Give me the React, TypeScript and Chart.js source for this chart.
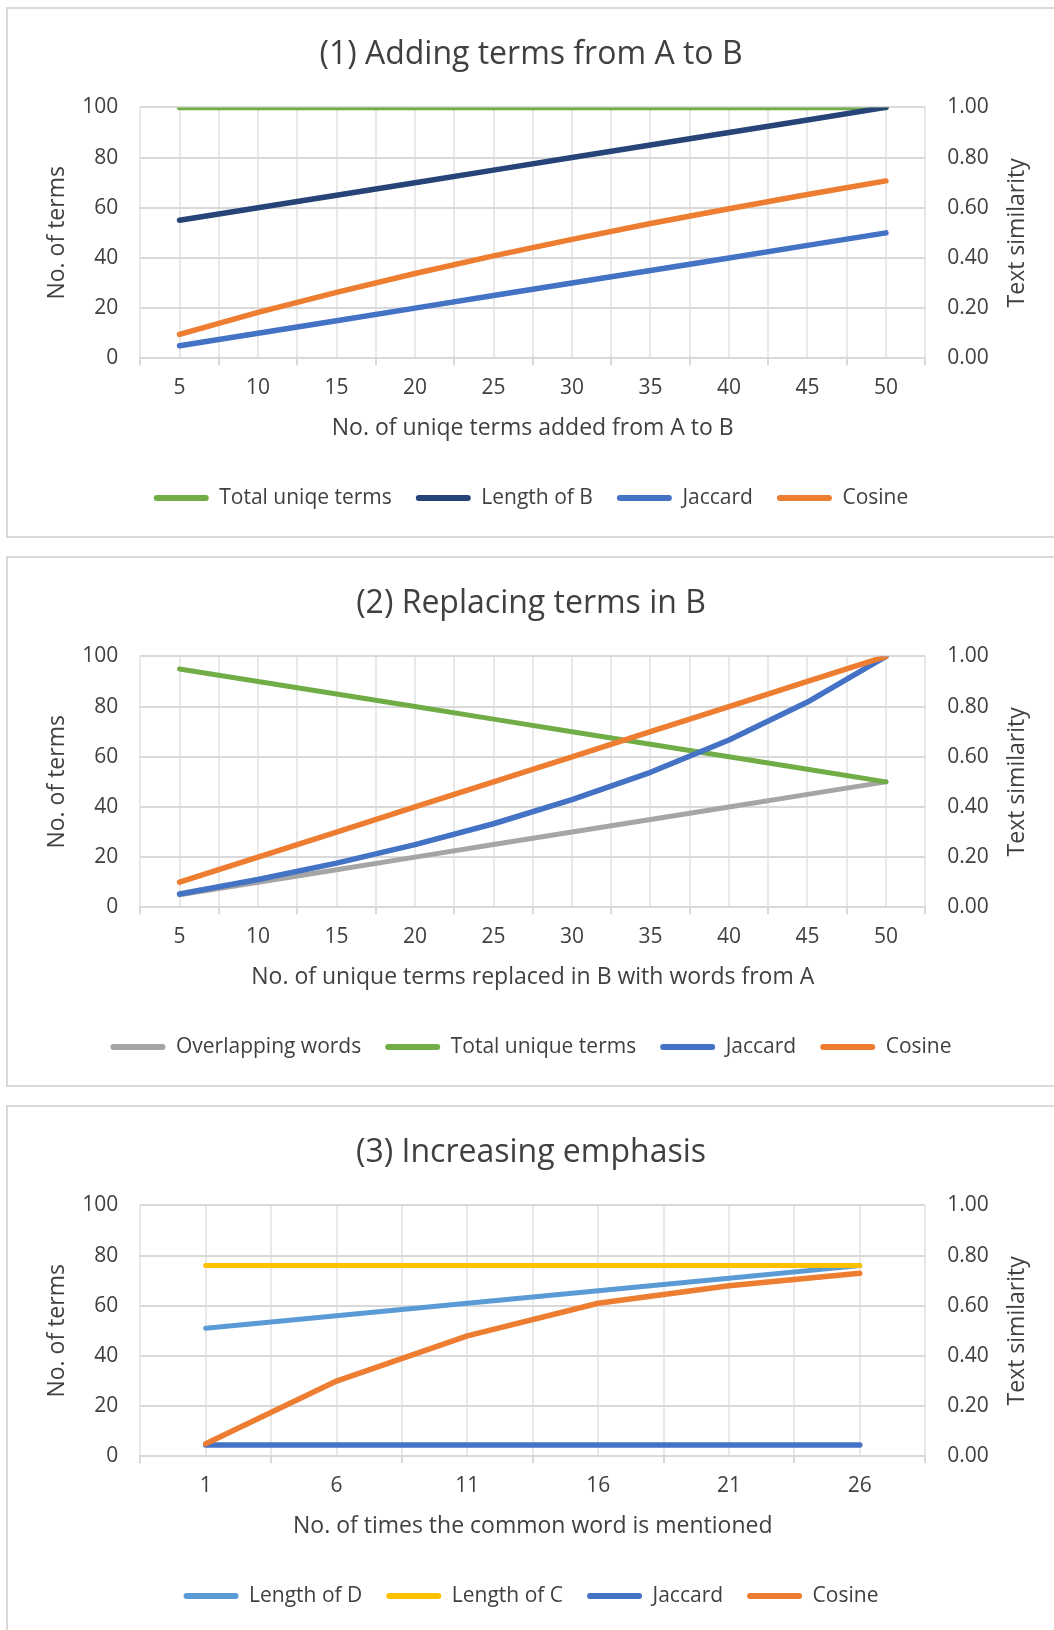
import React, { useEffect, useRef } from "react";
import { Chart, registerables } from "chart.js";

Chart.register(...registerables);

const FONT = "'Open Sans', 'Noto Sans', sans-serif";
const TEXT = "#404040";

// (1) Adding terms from A to B
const ADD_X = [5, 10, 15, 20, 25, 30, 35, 40, 45, 50];
const ADD_TOTAL_UNIQUE = [100, 100, 100, 100, 100, 100, 100, 100, 100, 100];
const ADD_LENGTH_B = [55, 60, 65, 70, 75, 80, 85, 90, 95, 100];
const ADD_JACCARD = [0.05, 0.1, 0.15, 0.2, 0.25, 0.3, 0.35, 0.4, 0.45, 0.5];
const ADD_COSINE = [0.095, 0.183, 0.263, 0.338, 0.408, 0.474, 0.537, 0.596, 0.653, 0.707];

// (2) Replacing terms in B
const REPL_X = [5, 10, 15, 20, 25, 30, 35, 40, 45, 50];
const REPL_OVERLAP = [5, 10, 15, 20, 25, 30, 35, 40, 45, 50];
const REPL_TOTAL_UNIQUE = [95, 90, 85, 80, 75, 70, 65, 60, 55, 50];
const REPL_JACCARD = [0.053, 0.111, 0.176, 0.25, 0.333, 0.429, 0.538, 0.667, 0.818, 1.0];
const REPL_COSINE = [0.1, 0.2, 0.3, 0.4, 0.5, 0.6, 0.7, 0.8, 0.9, 1.0];

// (3) Increasing emphasis
const EMPH_X = [1, 6, 11, 16, 21, 26];
const EMPH_LENGTH_D = [51, 56, 61, 66, 71, 76];
const EMPH_LENGTH_C = [76, 76, 76, 76, 76, 76];
const EMPH_JACCARD = [0.045, 0.045, 0.045, 0.045, 0.045, 0.045];
const EMPH_COSINE = [0.05, 0.3, 0.48, 0.61, 0.68, 0.73];

const GREEN = "#70AD47";
const NAVY = "#264478";
const BLUE = "#4472C4";
const ORANGE = "#ED7D31";
const GRAY = "#A5A5A5";
const GOLD = "#FFC000";
const LIGHT_BLUE = "#5B9BD5";

type Series = {
  label: string;
  color: string;
  width: number;
  axis: "y" | "y1";
  values: number[];
};

type PanelSpec = {
  title: string;
  xTitle: string;
  xs: number[];
  series: Series[];
};

const PANELS: PanelSpec[] = [
  {
    title: "(1) Adding terms from A to B",
    xTitle: "No. of uniqe terms added from A to B",
    xs: ADD_X,
    series: [
      { label: "Total uniqe terms", color: GREEN, width: 5.5, axis: "y", values: ADD_TOTAL_UNIQUE },
      { label: "Length of B", color: NAVY, width: 5.5, axis: "y", values: ADD_LENGTH_B },
      { label: "Jaccard", color: BLUE, width: 5.5, axis: "y1", values: ADD_JACCARD },
      { label: "Cosine", color: ORANGE, width: 5.5, axis: "y1", values: ADD_COSINE },
    ],
  },
  {
    title: "(2) Replacing terms in B",
    xTitle: "No. of unique terms replaced in B with words from A",
    xs: REPL_X,
    series: [
      { label: "Overlapping words", color: GRAY, width: 5, axis: "y", values: REPL_OVERLAP },
      { label: "Total unique terms", color: GREEN, width: 5, axis: "y", values: REPL_TOTAL_UNIQUE },
      { label: "Jaccard", color: BLUE, width: 5.5, axis: "y1", values: REPL_JACCARD },
      { label: "Cosine", color: ORANGE, width: 5.5, axis: "y1", values: REPL_COSINE },
    ],
  },
  {
    title: "(3) Increasing emphasis",
    xTitle: "No. of times the common word is mentioned",
    xs: EMPH_X,
    series: [
      { label: "Length of D", color: LIGHT_BLUE, width: 5, axis: "y", values: EMPH_LENGTH_D },
      { label: "Length of C", color: GOLD, width: 5, axis: "y", values: EMPH_LENGTH_C },
      { label: "Jaccard", color: BLUE, width: 5.5, axis: "y1", values: EMPH_JACCARD },
      { label: "Cosine", color: ORANGE, width: 5.5, axis: "y1", values: EMPH_COSINE },
    ],
  },
];

const CANVAS_W = 1046;
const CANVAS_H = 527;

// Secondary axis title, drawn reading bottom-to-top like the primary one
const sideTitle = {
  id: "sideTitle",
  afterDraw(chart: any) {
    const { ctx, chartArea, scales } = chart;
    const x = scales.y1.right - 37;
    const y = (chartArea.top + chartArea.bottom) / 2;
    ctx.save();
    ctx.translate(x, y);
    ctx.rotate(-Math.PI / 2);
    ctx.font = `23px ${FONT}`;
    ctx.fillStyle = TEXT;
    ctx.textAlign = "center";
    ctx.textBaseline = "middle";
    ctx.fillText("Text similarity", 0, 0);
    ctx.restore();
  },
};

function buildChart(canvas: HTMLCanvasElement, spec: PanelSpec) {
  const half = (spec.xs[1] - spec.xs[0]) / 2;
  const isCategory = (v: number) => spec.xs.some((c) => Math.abs(c - v) < 1e-6);
  const n = spec.series.length;

  return new Chart(canvas, {
    type: "line",
    data: {
      datasets: spec.series.map((s, i) => ({
        label: s.label,
        data: spec.xs.map((x, k) => ({ x, y: s.values[k] })),
        yAxisID: s.axis,
        borderColor: s.color,
        backgroundColor: s.color,
        borderWidth: s.width,
        borderCapStyle: "round",
        borderJoinStyle: "round",
        pointRadius: 0,
        pointHoverRadius: 0,
        tension: 0,
        fill: false,
        order: n - i,
        clip: { left: false, right: false, top: 0, bottom: false },
      })),
    },
    options: {
      responsive: false,
      animation: false,
      events: [],
      layout: { padding: { left: 0, right: 0, top: 0, bottom: 17.5 } },
      plugins: {
        title: {
          display: true,
          text: spec.title,
          color: TEXT,
          font: { family: FONT, size: 32, weight: "normal" },
          padding: { top: 27, bottom: 33 },
        },
        legend: {
          position: "bottom",
          labels: {
            boxWidth: 55,
            boxHeight: 6,
            padding: 24,
            color: TEXT,
            font: { family: FONT, size: 21 },
            useBorderRadius: true,
            borderRadius: 3,
            sort: (a: any, b: any) => a.datasetIndex - b.datasetIndex,
            generateLabels: (chart: any) =>
              Chart.defaults.plugins.legend.labels
                .generateLabels(chart)
                .map((item: any) => ({ ...item, lineWidth: 0 })),
          },
        },
        tooltip: { enabled: false },
      },
      scales: {
        x: {
          type: "linear",
          min: spec.xs[0] - half,
          max: spec.xs[spec.xs.length - 1] + half,
          afterFit: (scale: any) => {
            scale.height = 105.2;
          },
          ticks: {
            stepSize: half,
            maxTicksLimit: 100,
            autoSkip: false,
            maxRotation: 0,
            padding: 10,
            color: TEXT,
            font: { family: FONT, size: 21 },
            callback: (v: any) => (isCategory(Number(v)) ? String(Math.round(Number(v))) : ""),
          },
          grid: {
            color: "#e8e8e8",
            lineWidth: 2,
            tickLength: 7,
            tickWidth: 2,
            tickColor: (ctx: any) =>
              ctx.tick && isCategory(ctx.tick.value) ? "rgba(0,0,0,0)" : "#d9d9d9",
          },
          border: { color: "#d9d9d9", width: 2 },
          title: {
            display: true,
            text: spec.xTitle,
            color: TEXT,
            font: { family: FONT, size: 23 },
            padding: { top: 0, bottom: 21.7 },
          },
        },
        y: {
          position: "left",
          min: 0,
          max: 100,
          afterFit: (scale: any) => {
            scale.width = 132.3;
          },
          ticks: {
            stepSize: 20,
            padding: 22,
            color: TEXT,
            font: { family: FONT, size: 21 },
          },
          grid: { color: "#d9d9d9", lineWidth: 2, drawTicks: false },
          border: { display: false },
          title: {
            display: true,
            text: "No. of terms",
            color: TEXT,
            font: { family: FONT, size: 23 },
            padding: { top: 36, bottom: 0 },
          },
        },
        y1: {
          position: "right",
          min: 0,
          max: 1,
          afterFit: (scale: any) => {
            scale.width = 128.8;
          },
          ticks: {
            stepSize: 0.2,
            padding: 22,
            color: TEXT,
            font: { family: FONT, size: 21 },
            callback: (v: any) => Number(v).toFixed(2),
          },
          grid: { drawOnChartArea: false, drawTicks: false },
          border: { display: false },
        },
      },
    } as any,
    plugins: [sideTitle],
  } as any);
}

function Panel({ spec, top }: { spec: PanelSpec; top: number }) {
  const ref = useRef<HTMLCanvasElement>(null);
  useEffect(() => {
    if (!ref.current) return;
    const chart = buildChart(ref.current, spec);
    return () => chart.destroy();
  }, [spec]);
  return (
    <div
      style={{
        position: "absolute",
        left: 6,
        top,
        width: 1062,
        height: 531,
        border: "2px solid #d9d9d9",
        boxSizing: "border-box",
        background: "#fff",
      }}
    >
      <canvas
        ref={ref}
        width={CANVAS_W}
        height={CANVAS_H}
        style={{ position: "absolute", left: 0, top: 0 }}
      />
    </div>
  );
}

export default function App() {
  const tops = [7, 556, 1105];
  return (
    <div
      style={{
        position: "absolute",
        left: 0,
        top: 0,
        width: 1054,
        height: 1630,
        overflow: "hidden",
        background: "#fff",
      }}
    >
      {PANELS.map((spec, i) => (
        <Panel key={i} spec={spec} top={tops[i]} />
      ))}
    </div>
  );
}
